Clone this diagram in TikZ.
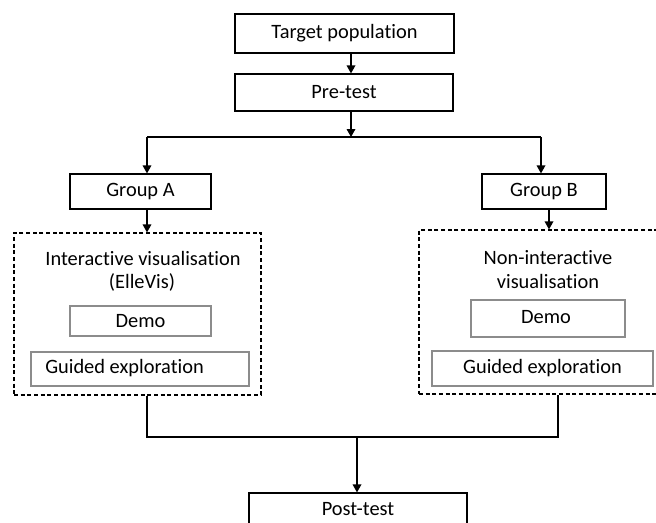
\documentclass[tikz,border=0pt]{standalone}
\usepackage{fontspec}
\setmainfont{Carlito}[RawFeature={-liga;-clig}]
\usetikzlibrary{fit,arrows.meta}
\begin{document}
\begin{tikzpicture}[x=0.75pt,y=-0.75pt,
  font=\fontsize{15.3}{18}\selectfont,
  mainbox/.style={draw=black,line width=0.9pt,inner sep=0pt},
  innerbox/.style={draw=black!45,line width=0.9pt,inner sep=0pt},
  groupbox/.style={draw=black,line width=0.9pt,dash pattern=on 3pt off 2pt,inner sep=0pt},
  txt/.style={inner sep=0pt},
  conn/.style={line width=0.9pt,draw=black},
  arr/.style={conn,-{Triangle[width=6.5pt,length=6pt]}}]
\useasboundingbox (0,0) rectangle (656,522);
% boxes
\node[mainbox,fit={(235,14)(454,53)}] (tp) {};
\node[mainbox,fit={(235,74)(453,111)}] (pre) {};
\node[mainbox,fit={(70,174)(211,209)}] (gA) {};
\node[mainbox,fit={(482,174)(606,209)}] (gB) {};
\node[groupbox,fit={(14,233)(261,395)}] (dA) {};
\node[groupbox,fit={(419,230)(660,394)}] (dB) {};
\node[innerbox,fit={(70,306)(211,336)}] (demoA) {};
\node[innerbox,fit={(31,352)(249,386)}] (guidA) {};
\node[innerbox,fit={(471,300)(625,337)}] (demoB) {};
\node[innerbox,fit={(432,351)(653,386)}] (guidB) {};
\node[mainbox,fit={(249,493)(467,525)}] (post) {};
% texts
\node[txt] (tpT) at (tp.center) {Target population};
\node[txt] (preT) at (pre.center) {Pre-test};
\node[txt] (gAT) at (gA.center) {Group A};
\node[txt] (gBT) at (gB.center) {Group B};
\node[txt] (tA1) at (143,258) {Interactive visualisation};
\node[txt] (tA2) at (142,282) {(ElleVis)};
\node[txt] (tB1) at (548,258) {Non-interactive};
\node[txt] (tB2) at (548,281) {visualisation};
\node[txt] (demoAT) at (demoA.center) {Demo};
\node[txt,anchor=west] (guidAT) at (45,368) {Guided exploration};
\node[txt] (demoBT) at (546,317) {Demo};
\node[txt] (guidBT) at (guidB.center) {Guided exploration};
\node[txt] (postT) at (358,509) {Post-test};
% junction coordinates
\coordinate (jtop) at (351,137);
\coordinate (jA) at (147,137);
\coordinate (jB) at (541,137);
\coordinate (xB) at (549,220);
\coordinate (bL) at (147,437);
\coordinate (bR) at (558,437);
\coordinate (bM) at (357,437);
% connectors
\draw[arr] (tp.south -| jtop) -- (pre.north -| jtop);
\draw[arr] (pre.south -| jtop) -- (jtop);
\draw[conn] (jA) -- (jB);
\draw[arr] (jA) -- (jA |- gA.north);
\draw[arr] (jB) -- (jB |- gB.north);
\draw[arr] (gA.south -| jA) -- (dA.north -| jA);
\draw[arr] (gB.south -| xB) -- (dB.north -| xB);
\draw[conn] (dA.south -| bL) -- (bL) -- (bR) -- (dB.south -| bR);
\draw[arr] (bM) -- (post.north -| bM);
\end{tikzpicture}
\end{document}
